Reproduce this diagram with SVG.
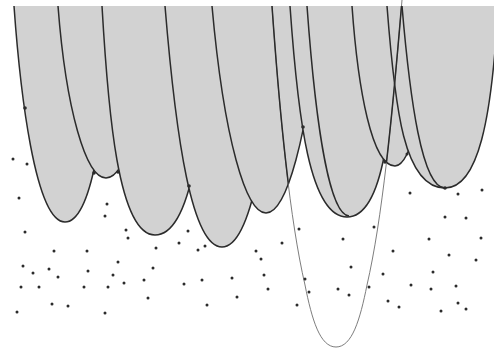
<svg xmlns="http://www.w3.org/2000/svg" width="494" height="351" viewBox="0 0 494 351">
<style>
.lobe{fill:#d2d2d2;stroke:none}
.edge{fill:none;stroke:#2b2b2b;stroke-width:1.5}
.thin{fill:none;stroke:#6e6e6e;stroke-width:0.9}
.dark{fill:none;stroke:#2b2b2b;stroke-width:1.5}
.dot{fill:#2b2b2b}
</style>
<defs>
<clipPath id="grayArea">
<path d="M14,6 C20,90 35,222 65,222 C92,222 104,130 114,6 Z"/>
<path d="M58,6 C66,110 86,178 106,178 C126,178 146,110 154,6 Z"/>
<path d="M102,6 C108,110 118,235 155,235 C192,235 204,130 210,6 Z"/>
<path d="M165,6 C176,140 192,247 222,247 C252,247 268,140 279,6 Z"/>
<path d="M212,6 C224,140 246,213 266,213 C286,213 308,140 320,6 Z"/>
<path d="M290,6 C298,120 310,217 347,217 C385,217 392,120 398,6 Z"/>
<path d="M352,6 C358,90 372,166 395,166 C412,166 425,100 438,6 Z"/>
<path d="M387,6 C395,110 404,188 445,188 C478,188 492,120 498,6 Z"/>
</clipPath>
</defs>
<rect width="494" height="351" fill="#ffffff"/>
<g id="lobe1">
<path class="lobe" d="M14,6 C20,90 35,222 65,222 C92,222 104,130 114,6 Z"/>
<path class="edge" d="M14,6 C20,90 35,222 65,222 C92,222 104,130 114,6"/>
</g>
<g id="lobe2">
<path class="lobe" d="M58,6 C66,110 86,178 106,178 C126,178 146,110 154,6 Z"/>
<path class="edge" d="M58,6 C66,110 86,178 106,178 C126,178 146,110 154,6"/>
</g>
<g id="lobe3">
<path class="lobe" d="M102,6 C108,110 118,235 155,235 C192,235 204,130 210,6 Z"/>
<path class="edge" d="M102,6 C108,110 118,235 155,235 C192,235 204,130 210,6"/>
</g>
<g id="lobe4">
<path class="lobe" d="M165,6 C176,140 192,247 222,247 C252,247 268,140 279,6 Z"/>
<path class="edge" d="M165,6 C176,140 192,247 222,247 C252,247 268,140 279,6"/>
</g>
<g id="lobe5">
<path class="lobe" d="M212,6 C224,140 246,213 266,213 C286,213 308,140 320,6 Z"/>
<path class="edge" d="M212,6 C224,140 246,213 266,213 C286,213 308,140 320,6"/>
</g>
<g id="lobe6">
<path class="lobe" d="M290,6 C298,120 310,217 347,217 C385,217 392,120 398,6 Z"/>
<path class="edge" d="M290,6 C298,120 310,217 347,217 C385,217 392,120 398,6"/>
<path class="edge" d="M307,6 C316,130 330,215 349,216"/>
</g>
<g id="lobe7">
<path class="lobe" d="M352,6 C358,90 372,166 395,166 C412,166 425,100 438,6 Z"/>
<path class="edge" d="M352,6 C358,90 372,166 395,166 C412,166 425,100 438,6"/>
</g>
<g id="lobe8">
<path class="lobe" d="M387,6 C395,110 404,188 445,188 C478,188 492,120 498,6 Z"/>
<path class="edge" d="M387,6 C395,110 404,188 445,188 C478,188 492,120 498,6"/>
<path class="edge" d="M402,6 C410,100 422,188 445,188"/>
</g>
<g id="connectors">
<path class="thin" d="M272,6 C280,120 290,220 305,285 C312,320 320,347 336,347 C352,347 360,320 367,285 C382,220 392,120 402,0"/>
<path class="dark" clip-path="url(#grayArea)" d="M272,6 C280,120 290,220 305,285 C312,320 320,347 336,347 C352,347 360,320 367,285 C382,220 392,120 402,0"/>
</g>
<g id="junctions" class="dot">
<circle cx="25" cy="108" r="1.8"/><circle cx="94" cy="173" r="1.8"/><circle cx="118" cy="172" r="1.8"/>
<circle cx="189" cy="186" r="1.8"/><circle cx="303" cy="127" r="1.8"/><circle cx="385" cy="162" r="1.8"/>
<circle cx="445" cy="188" r="1.8"/><circle cx="407" cy="154" r="1.5"/>
</g>
<g id="dots" class="dot">
<circle cx="13" cy="159" r="1.5"/><circle cx="27" cy="164" r="1.5"/><circle cx="19" cy="198" r="1.5"/>
<circle cx="107" cy="204" r="1.5"/><circle cx="105" cy="216" r="1.5"/><circle cx="25" cy="232" r="1.5"/>
<circle cx="126" cy="230" r="1.5"/><circle cx="128" cy="238" r="1.5"/><circle cx="188" cy="231" r="1.5"/>
<circle cx="179" cy="243" r="1.5"/><circle cx="156" cy="248" r="1.5"/><circle cx="198" cy="250" r="1.5"/>
<circle cx="205" cy="246" r="1.5"/><circle cx="54" cy="251" r="1.5"/><circle cx="87" cy="251" r="1.5"/>
<circle cx="118" cy="262" r="1.5"/><circle cx="23" cy="266" r="1.5"/><circle cx="49" cy="269" r="1.5"/>
<circle cx="88" cy="271" r="1.5"/><circle cx="153" cy="268" r="1.5"/><circle cx="33" cy="273" r="1.5"/>
<circle cx="58" cy="277" r="1.5"/><circle cx="113" cy="275" r="1.5"/><circle cx="124" cy="283" r="1.5"/>
<circle cx="144" cy="280" r="1.5"/><circle cx="202" cy="280" r="1.5"/><circle cx="232" cy="278" r="1.5"/>
<circle cx="21" cy="287" r="1.5"/><circle cx="39" cy="287" r="1.5"/><circle cx="84" cy="287" r="1.5"/>
<circle cx="108" cy="287" r="1.5"/><circle cx="184" cy="284" r="1.5"/><circle cx="148" cy="298" r="1.5"/>
<circle cx="237" cy="297" r="1.5"/><circle cx="52" cy="304" r="1.5"/><circle cx="68" cy="306" r="1.5"/>
<circle cx="207" cy="305" r="1.5"/><circle cx="17" cy="312" r="1.5"/><circle cx="105" cy="313" r="1.5"/>
<circle cx="410" cy="193" r="1.5"/><circle cx="458" cy="194" r="1.5"/><circle cx="482" cy="190" r="1.5"/>
<circle cx="445" cy="217" r="1.5"/><circle cx="466" cy="218" r="1.5"/><circle cx="299" cy="229" r="1.5"/>
<circle cx="374" cy="227" r="1.5"/><circle cx="343" cy="239" r="1.5"/><circle cx="429" cy="239" r="1.5"/>
<circle cx="481" cy="238" r="1.5"/><circle cx="282" cy="243" r="1.5"/><circle cx="256" cy="251" r="1.5"/>
<circle cx="393" cy="251" r="1.5"/><circle cx="261" cy="259" r="1.5"/><circle cx="449" cy="255" r="1.5"/>
<circle cx="476" cy="260" r="1.5"/><circle cx="351" cy="267" r="1.5"/><circle cx="264" cy="275" r="1.5"/>
<circle cx="383" cy="274" r="1.5"/><circle cx="433" cy="272" r="1.5"/><circle cx="305" cy="279" r="1.5"/>
<circle cx="411" cy="285" r="1.5"/><circle cx="456" cy="286" r="1.5"/><circle cx="268" cy="289" r="1.5"/>
<circle cx="309" cy="292" r="1.5"/><circle cx="338" cy="289" r="1.5"/><circle cx="349" cy="295" r="1.5"/>
<circle cx="369" cy="287" r="1.5"/><circle cx="431" cy="289" r="1.5"/><circle cx="388" cy="301" r="1.5"/>
<circle cx="399" cy="307" r="1.5"/><circle cx="297" cy="305" r="1.5"/><circle cx="458" cy="303" r="1.5"/>
<circle cx="466" cy="309" r="1.5"/><circle cx="441" cy="311" r="1.5"/>
</g>
</svg>
